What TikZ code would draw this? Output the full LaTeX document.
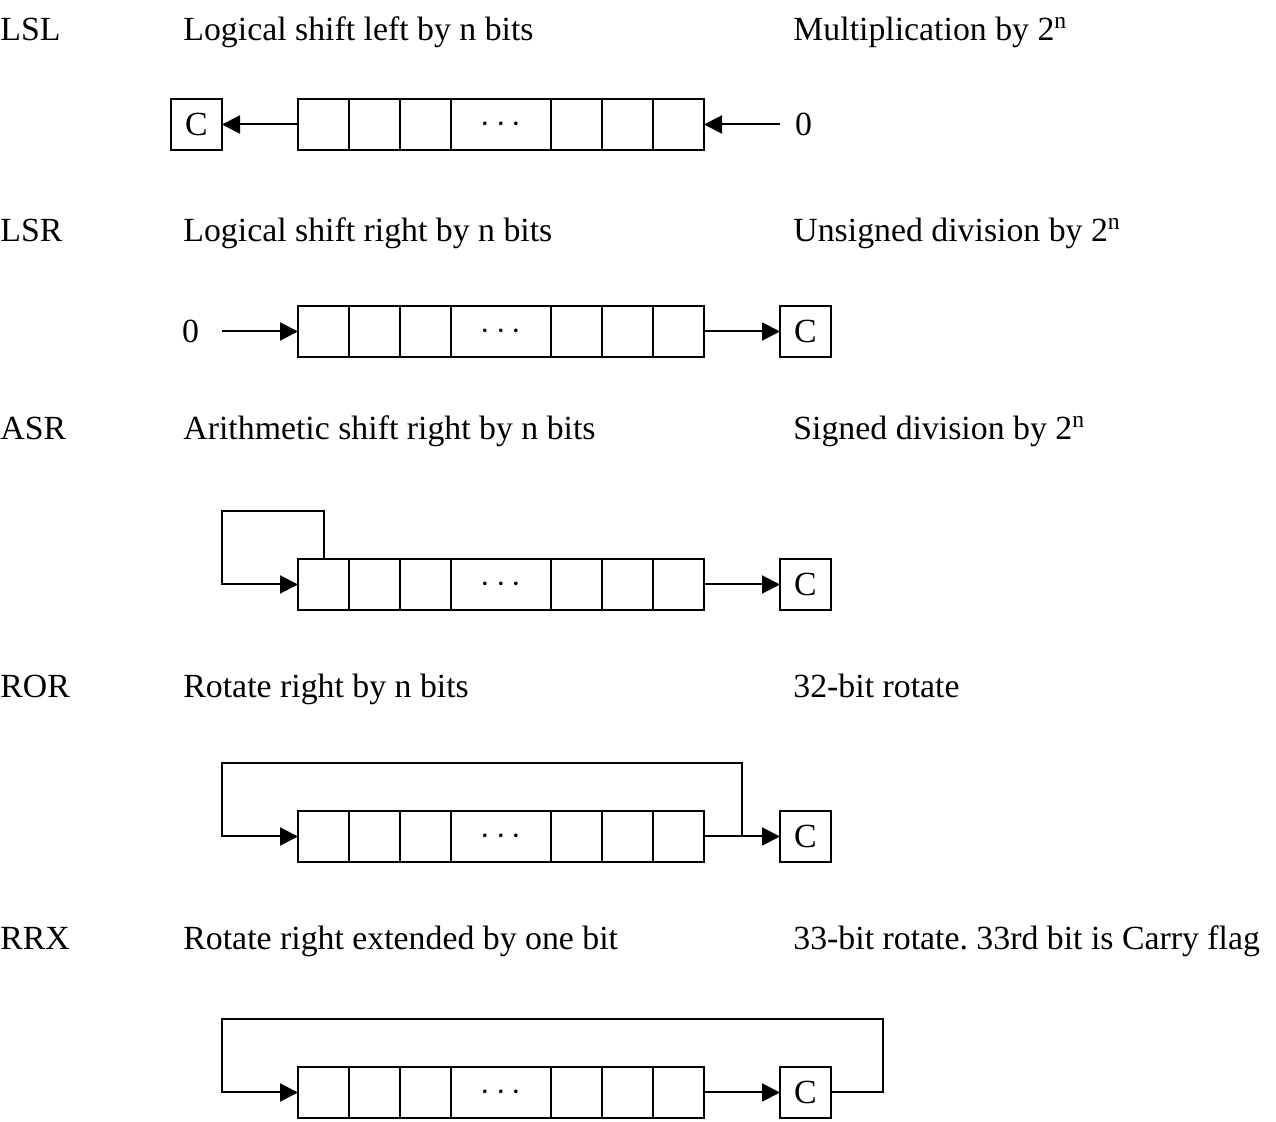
\documentclass[tikz,border=0pt]{standalone}
\usepackage{fontspec}
\setmainfont{Liberation Serif}
\usetikzlibrary{arrows.meta,positioning}

\tikzset{
  cell/.style={draw, line width=1pt, minimum width=25.5pt, minimum height=25.5pt,
    inner sep=0pt, outer sep=0pt},
  dotcell/.style={cell, minimum width=50pt},
  headtext/.style={anchor=base west, inner sep=0pt},
  shiftarrow/.style={-{Triangle[length=9pt,width=9pt]}, line width=1pt}
}

\begin{document}
\begin{tikzpicture}[x=0.5pt,y=-0.5pt,font=\fontsize{16.9}{20}\selectfont]
      \useasboundingbox (0,0) rectangle (1276,1122);

      % headings
      \node[headtext] (lslname) at (0,41)   {LSL};
      \node[headtext] (lsldesc) at (183,41) {Logical shift left by n bits};
      \node[headtext] (lslnote) at (793,41) {Multiplication by 2\textsuperscript{n}};
      \node[headtext] (lsrname) at (0,242)   {LSR};
      \node[headtext] (lsrdesc) at (183,242) {Logical shift right by n bits};
      \node[headtext] (lsrnote) at (793,242) {Unsigned division by 2\textsuperscript{n}};
      \node[headtext] (asrname) at (0,440)   {ASR};
      \node[headtext] (asrdesc) at (183,440) {Arithmetic shift right by n bits};
      \node[headtext] (asrnote) at (793,440) {Signed division by 2\textsuperscript{n}};
      \node[headtext] (rorname) at (0,698)   {ROR};
      \node[headtext] (rordesc) at (183,698) {Rotate right by n bits};
      \node[headtext] (rornote) at (793,698) {32-bit rotate};
      \node[headtext] (rrxname) at (0,950)   {RRX};
      \node[headtext] (rrxdesc) at (183,950) {Rotate right extended by one bit};
      \node[headtext] (rrxnote) at (793,950) {33-bit rotate.\ 33rd bit is Carry flag};

      % registers
      \foreach \row/\y in {lsl/124.5, lsr/331.5, asr/584.5, ror/836.5, rrx/1092.5} {
        \node[cell] (\row1) at (323.5,\y) {};
        \node[cell]    (\row2) [right=0pt of \row1] {};
        \node[cell]    (\row3) [right=0pt of \row2] {};
        \node[dotcell] (\row4) [right=0pt of \row3] {\raisebox{-1.5pt}{$\cdots$}};
        \node[cell]    (\row5) [right=0pt of \row4] {};
        \node[cell]    (\row6) [right=0pt of \row5] {};
        \node[cell]    (\row7) [right=0pt of \row6] {};
      }

      % carry flags and inputs
      \node[cell] (c1) [left=38pt of lsl1]  {C};
      \node[cell] (c2) [right=38pt of lsr7] {C};
      \node[cell] (c3) [right=38pt of asr7] {C};
      \node[cell] (c4) [right=38pt of ror7] {C};
      \node[cell] (c5) [right=38pt of rrx7] {C};
      \node (z1) [right=42pt of lsl7] {0};
      \node (z2) [left=46pt of lsr1]  {0};

      % LSL
      \draw[shiftarrow] (lsl1) -- (c1);
      \draw[shiftarrow, shorten <=4pt] (z1) -- (lsl7);
      % LSR
      \draw[shiftarrow, shorten <=8pt] (z2) -- (lsr1);
      \draw[shiftarrow] (lsr7) -- (c2);
      % ASR
      \draw[shiftarrow] (asr7) -- (c3);
      \draw[shiftarrow] (asr1.north) -- ++(0,24pt) -| ([xshift=-38pt]asr1.west) -- (asr1);
      % ROR
      \draw[shiftarrow] (ror7) -- coordinate[midway] (rortap) (c4);
      \draw[shiftarrow] (rortap) |- ([yshift=24pt]ror1.north) -| ([xshift=-38pt]ror1.west) -- (ror1);
      % RRX
      \draw[shiftarrow] (rrx7) -- (c5);
      \draw[shiftarrow] (c5.east) -- ++(26pt,0) |- ([yshift=24pt]rrx1.north) -| ([xshift=-38pt]rrx1.west) -- (rrx1);
\end{tikzpicture}
\end{document}
